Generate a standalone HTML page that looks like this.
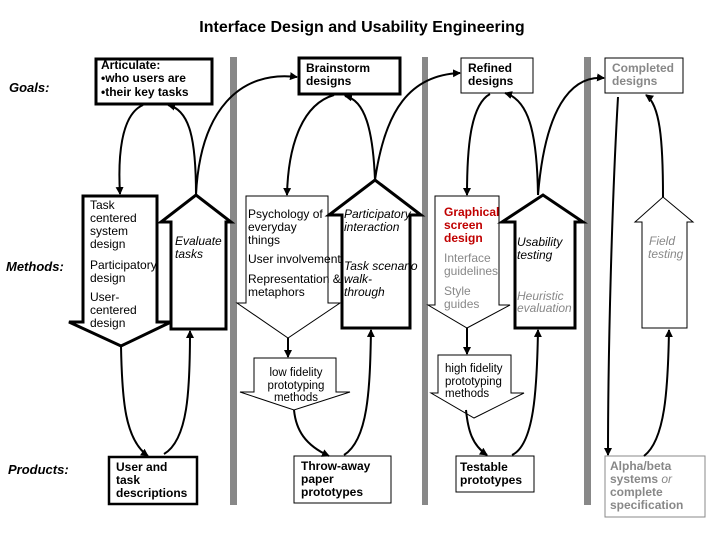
<!DOCTYPE html>
<html><head><meta charset="utf-8"><style>
html,body{margin:0;padding:0;background:#fff;}
svg{display:block;font-family:"Liberation Sans",Arial,sans-serif;}
</style></head><body>
<svg width="720" height="540" viewBox="0 0 720 540" xmlns="http://www.w3.org/2000/svg">
<defs>
<marker id="a" markerWidth="8" markerHeight="8" refX="7" refY="4" orient="auto" markerUnits="userSpaceOnUse">
<path d="M0,0 L8,4 L0,8 Z" fill="#000"/></marker>
</defs>
<rect width="720" height="540" fill="#fff"/>
<text x="362" y="32" font-size="16" font-weight="bold" text-anchor="middle">Interface Design and Usability Engineering</text>
<text x="9" y="92" font-size="13" font-weight="bold" font-style="italic">Goals:</text>
<text x="6" y="271" font-size="13" font-weight="bold" font-style="italic">Methods:</text>
<text x="8" y="474" font-size="13" font-weight="bold" font-style="italic">Products:</text>

<!-- dividers -->
<rect x="230" y="57" width="7" height="448" fill="#888"/>
<rect x="422" y="57" width="6" height="448" fill="#888"/>
<rect x="584" y="57" width="7" height="448" fill="#888"/>

<!-- goal boxes -->
<rect x="96" y="59" width="116" height="45" fill="#fff" stroke="#000" stroke-width="3"/>
<text font-size="12" font-weight="bold"><tspan x="101" y="69">Articulate:</tspan><tspan x="101" y="82">•who users are</tspan><tspan x="101" y="96">•their key tasks</tspan></text>
<rect x="299" y="58" width="101" height="36" fill="#fff" stroke="#000" stroke-width="3"/>
<text font-size="12" font-weight="bold"><tspan x="306" y="72">Brainstorm</tspan><tspan x="306" y="85">designs</tspan></text>
<rect x="461" y="58" width="72" height="35" fill="#fff" stroke="#000" stroke-width="1"/>
<text font-size="12" font-weight="bold"><tspan x="468" y="72">Refined</tspan><tspan x="468" y="85">designs</tspan></text>
<rect x="605" y="58" width="78" height="35" fill="#fff" stroke="#000" stroke-width="1"/>
<text font-size="12" font-weight="bold" fill="#888"><tspan x="612" y="72">Completed</tspan><tspan x="612" y="85">designs</tspan></text>

<!-- method arrows -->
<polygon points="83,196 157,196 157,322 171,322 121,346 69,322 83,322" fill="#fff" stroke="#000" stroke-width="3"/>
<text font-size="12" fill="#000"><tspan x="90" y="209">Task</tspan><tspan x="90" y="222">centered</tspan><tspan x="90" y="235">system</tspan><tspan x="90" y="248">design</tspan><tspan x="90" y="269">Participatory</tspan><tspan x="90" y="282">design</tspan><tspan x="90" y="301">User-</tspan><tspan x="90" y="314">centered</tspan><tspan x="90" y="327">design</tspan></text>

<polygon points="171,329 171,222 161,222 196,195 231,222 226,222 226,329" fill="#fff" stroke="#000" stroke-width="3"/>
<text font-size="12" font-style="italic"><tspan x="175" y="245">Evaluate</tspan><tspan x="175" y="258">tasks</tspan></text>

<polygon points="246,196 328,196 328,303 340,303 288,338 237,303 246,303" fill="#fff" stroke="#000" stroke-width="1"/>
<polygon points="342,328 342,215 329,215 375,180 421,215 410,215 410,328" fill="#fff" stroke="#000" stroke-width="3"/>
<text font-size="12"><tspan x="248" y="218">Psychology of</tspan><tspan x="248" y="231">everyday</tspan><tspan x="248" y="244">things</tspan><tspan x="248" y="263">User involvement</tspan><tspan x="248" y="283">Representation  &amp;</tspan><tspan x="248" y="296">metaphors</tspan></text>
<text font-size="12" font-style="italic"><tspan x="344" y="218">Participatory</tspan><tspan x="344" y="231">interaction</tspan><tspan x="344" y="270">Task scenario</tspan><tspan x="344" y="283">walk-</tspan><tspan x="344" y="296">through</tspan></text>

<polygon points="435,196 499,196 499,305 510,305 467,328 428,305 435,305" fill="#fff" stroke="#000" stroke-width="1"/>
<text font-size="12" font-weight="bold" fill="#c00000"><tspan x="444" y="216">Graphical</tspan><tspan x="444" y="229">screen</tspan><tspan x="444" y="242">design</tspan></text>
<text font-size="12" fill="#888"><tspan x="444" y="262">Interface</tspan><tspan x="444" y="275">guidelines</tspan><tspan x="444" y="295">Style</tspan><tspan x="444" y="308">guides</tspan></text>

<polygon points="515,328 515,222 502,222 543,195 583,222 575,222 575,328" fill="#fff" stroke="#000" stroke-width="3"/>
<text font-size="12" font-style="italic"><tspan x="517" y="246">Usability</tspan><tspan x="517" y="259">testing</tspan></text>
<text font-size="12" font-style="italic" fill="#888"><tspan x="517" y="300">Heuristic</tspan><tspan x="517" y="312">evaluation</tspan></text>

<polygon points="642,328 642,222 635,222 663,197 693,222 687,222 687,328" fill="#fff" stroke="#000" stroke-width="1"/>
<text font-size="12" font-style="italic" fill="#888"><tspan x="649" y="245">Field</tspan><tspan x="648" y="258">testing</tspan></text>

<!-- prototyping arrows -->
<polygon points="254,358 336,358 336,392 350,392 294,410 240,392 254,392" fill="#fff" stroke="#000" stroke-width="1"/>
<text font-size="11.5" text-anchor="middle"><tspan x="296" y="376">low fidelity</tspan><tspan x="296" y="389">prototyping</tspan><tspan x="296" y="401">methods</tspan></text>
<polygon points="438,355 511,355 511,393 524,393 474,418 431,393 438,393" fill="#fff" stroke="#000" stroke-width="1"/>
<text font-size="11.5"><tspan x="445" y="372">high fidelity</tspan><tspan x="445" y="385">prototyping</tspan><tspan x="445" y="397">methods</tspan></text>

<!-- product boxes -->
<rect x="109" y="457" width="88" height="47" fill="#fff" stroke="#000" stroke-width="2.5"/>
<text font-size="12" font-weight="bold"><tspan x="116" y="471">User and</tspan><tspan x="116" y="484">task</tspan><tspan x="116" y="497">descriptions</tspan></text>
<rect x="294" y="456" width="97" height="47" fill="#fff" stroke="#000" stroke-width="1"/>
<text font-size="12" font-weight="bold"><tspan x="301" y="470">Throw-away</tspan><tspan x="301" y="483">paper</tspan><tspan x="301" y="496">prototypes</tspan></text>
<rect x="456" y="456" width="78" height="36" fill="#fff" stroke="#000" stroke-width="1"/>
<text font-size="12" font-weight="bold"><tspan x="460" y="471">Testable</tspan><tspan x="460" y="484">prototypes</tspan></text>
<rect x="605" y="456" width="100" height="61" fill="#fff" stroke="#888" stroke-width="1"/>
<text font-size="12" font-weight="bold" fill="#888"><tspan x="610" y="470">Alpha/beta</tspan><tspan x="610" y="483">systems <tspan font-style="italic" font-weight="normal">or</tspan></tspan><tspan x="610" y="496">complete</tspan><tspan x="610" y="509">specification</tspan></text>

<!-- connectors -->
<g fill="none" stroke="#000" stroke-width="2">
<path d="M143,105 C120,115 118,160 120,194" marker-end="url(#a)"/>
<path d="M196,195 C196,140 190,110 168,105" marker-end="url(#a)"/>
<path d="M196,195 C200,110 240,70 297,77" marker-end="url(#a)"/>
<path d="M334,95 C300,105 288,150 287,195" marker-end="url(#a)"/>
<path d="M375,180 C373,130 365,100 345,96" marker-end="url(#a)"/>
<path d="M375,180 C385,110 410,75 460,73" marker-end="url(#a)"/>
<path d="M490,94 C470,105 467,150 467,195" marker-end="url(#a)"/>
<path d="M538,195 C537,130 528,100 505,93" marker-end="url(#a)"/>
<path d="M538,195 C545,110 570,75 604,78" marker-end="url(#a)"/>
<path d="M618,97 C612,200 608,350 608,455" marker-end="url(#a)"/>
<path d="M663,197 C663,140 660,105 646,95" marker-end="url(#a)"/>
<path d="M121,346 C122,400 125,440 148,456" marker-end="url(#a)"/>
<path d="M164,454 C188,440 190,390 190,331" marker-end="url(#a)"/>
<path d="M288,338 L288,357" marker-end="url(#a)"/>
<path d="M294,410 C296,430 305,445 329,456" marker-end="url(#a)"/>
<path d="M344,455 C368,440 370,390 371,330" marker-end="url(#a)"/>
<path d="M467,328 L467,354" marker-end="url(#a)"/>
<path d="M466,410 C468,430 472,445 487,455" marker-end="url(#a)"/>
<path d="M512,455 C534,445 537,390 538,330" marker-end="url(#a)"/>
<path d="M644,456 C665,440 668,390 669,330" marker-end="url(#a)"/>
</g>
</svg>
</body></html>
